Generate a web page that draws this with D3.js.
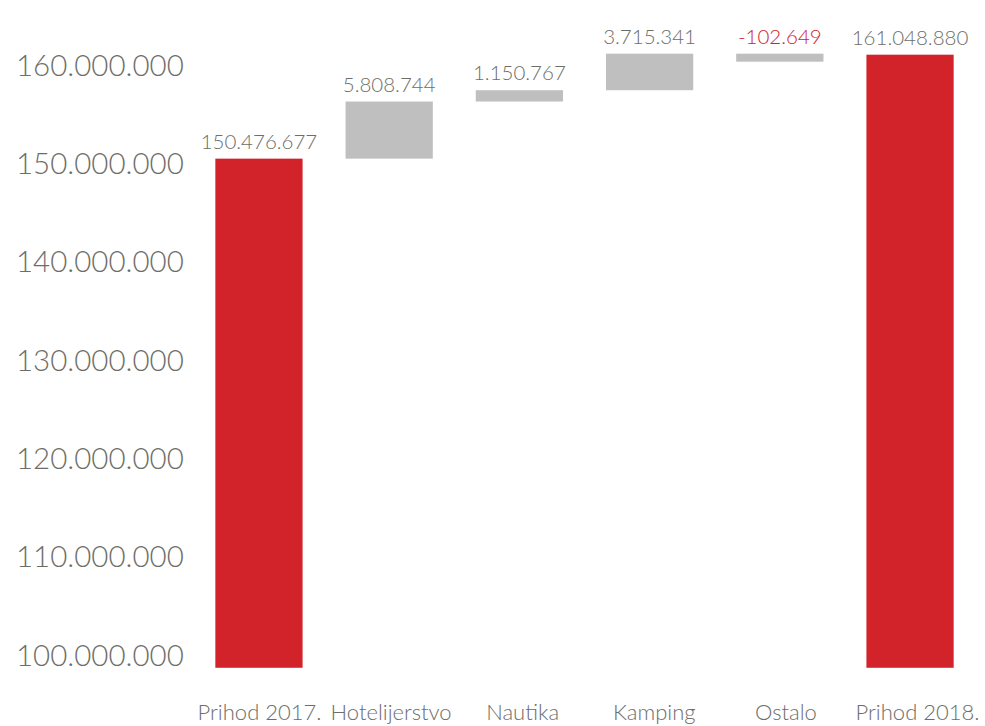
<!DOCTYPE html>
<html><head><meta charset="utf-8">
<script src="https://cdn.jsdelivr.net/npm/d3@7"></script>
<style>body{margin:0;background:#fff}svg{display:block}text{font-family:Lato,"Noto Sans",sans-serif;font-weight:300}</style>
</head><body><svg id="c" width="985" height="726"></svg>
<script>
const categories = ["Prihod 2017.","Hotelijerstvo","Nautika","Kamping","Ostalo","Prihod 2018."];
const values = [150476677, 5808744, 1150767, 3715341, -102649, 161048880];
const kinds = ["total","delta","delta","delta","delta","total"];
const valueLabels = ["150.476.677","5.808.744","1.150.767","3.715.341","-102.649","161.048.880"];
const yTicks = [100000000,110000000,120000000,130000000,140000000,150000000,160000000];
const yMin = 98700000;

const svg = d3.select("#c");
const y = d3.scaleLinear().domain([100000000,160000000]).range([655,65]);
const x = d3.scaleBand().domain(categories).range([194.5,974.5]).paddingInner(0.33).paddingOuter(0.16);
const xl = d3.scalePoint().domain(categories).range([259,917]);

let run = 0;
const bars = categories.map((c,i)=>{
  let lo, hi;
  if (kinds[i]==="total"){ lo = yMin; hi = values[i]; run = values[i]; }
  else { const s = run; run += values[i]; lo = Math.min(s,run); hi = Math.max(s,run); }
  return {c, lo, hi, kind:kinds[i], v:values[i], label:valueLabels[i]};
});

const fmt = d => d3.format(",")(d).replace(/,/g,".");
const ya = svg.append("g").attr("transform","translate(16,0)")
  .call(d3.axisRight(y).tickValues(yTicks).tickFormat(fmt).tickSize(0).tickPadding(0));
ya.select(".domain").remove();
ya.selectAll("text").attr("font-size",29.5).attr("fill","#6e6e68").attr("dy","0.35em");

const minH = 8;
svg.append("g").selectAll("rect").data(bars).join("rect")
  .attr("x",d=>x(d.c)).attr("width",x.bandwidth())
  .attr("y",d=>y(d.hi))
  .attr("height",d=>Math.max(minH, y(d.lo)-y(d.hi)))
  .attr("fill",d=>d.kind==="total"?"#d2232a":"#bfbfbf");

svg.append("g").selectAll("text").data(bars).join("text")
  .attr("x",d=>x(d.c)+x.bandwidth()/2).attr("y",d=>y(d.hi)-10)
  .attr("text-anchor","middle").attr("font-size",20.5)
  .attr("fill",d=>d.v<0?"#d2232a":"#6e6e68").text(d=>d.label);

const xa = svg.append("g").attr("transform","translate(0,720)")
  .call(d3.axisBottom(xl).tickSize(0).tickPadding(0));
xa.select(".domain").remove();
xa.selectAll("text").attr("font-size",22).attr("fill","#6e6e68").attr("dy",0);
</script></body></html>
